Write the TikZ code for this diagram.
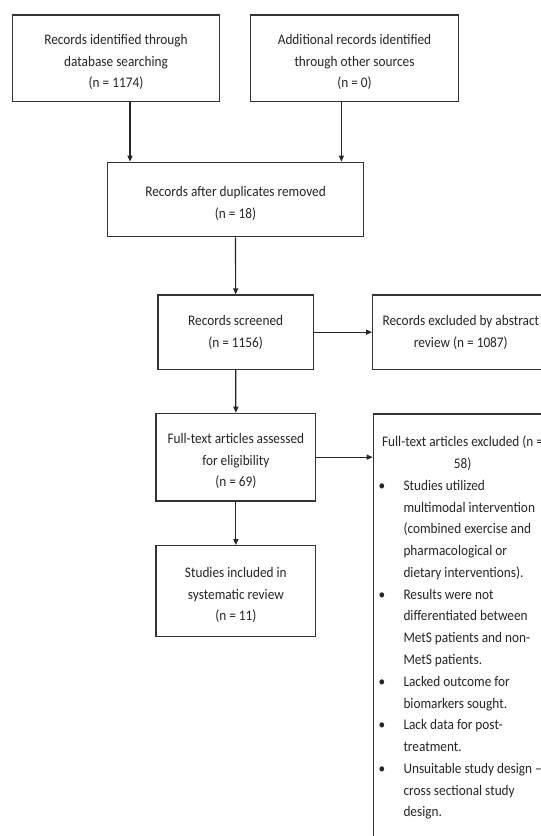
\documentclass[tikz,border=0pt]{standalone}
\usepackage{fontspec}
\setmainfont{Carlito}
\usepackage{graphicx}
\usetikzlibrary{arrows.meta}
\newcommand{\bt}[2][7pt]{\raisebox{0pt}[\dimexpr\height+#1\relax][\depth]{\scalebox{1}[1.1]{\begin{tabular}{@{}c@{}}#2\end{tabular}}}}
\newcommand{\bl}[1]{\makebox[24.9pt][l]{•}#1}
\newcommand{\ind}[1]{\hspace{24.9pt}#1}
\tikzset{
  box/.style={draw=black!80, line width=1.3pt, rectangle, inner sep=0pt,
    font=\fontsize{13.3}{19.8}\selectfont, text=black!85, fill=white},
  arr/.style={draw=black!85, line width=1.2pt, -{Triangle[length=6pt,width=5pt]}},
  txt/.style={inner sep=0pt, font=\fontsize{13.3}{19.8}\selectfont, text=black!85}
}
\begin{document}
\begin{tikzpicture}[x=1pt,y=-1pt]
\useasboundingbox (0,0) rectangle (541,836);
\fill[white] (0,0) rectangle (541,836);
\clip (0,0) rectangle (541,836);

\node[box, minimum width=206.6pt, minimum height=86.7pt] (b1) at (116,58.35)
  {\bt{Records identified through\\database searching\\(n = 1174)}};
\node[box, minimum width=207.6pt, minimum height=86.7pt] (b2) at (354.5,58.35)
  {\bt{Additional records identified\\through other sources\\(n = 0)}};
\node[box, minimum width=256.5pt, minimum height=74.4pt] (b3) at (235.55,199.5)
  {\bt[8pt]{Records after duplicates removed\\(n = 18)}};
\node[box, minimum width=155.3pt, minimum height=74.3pt] (scr) at (235.65,332.15)
  {\bt[0pt]{Records screened\\(n = 1156)}};
\node[box, minimum width=176.3pt, minimum height=74.3pt] (ex1) at (460.85,332.15)
  {\bt[0pt]{Records excluded by abstract\\review (n = 1087)}};
\node[box, minimum width=159.7pt, minimum height=87.7pt] (ft) at (235.85,457.15)
  {\bt{Full-text articles assessed\\for eligibility\\(n = 69)}};
\node[box, minimum width=159.7pt, minimum height=91pt] (st) at (235.85,591.2)
  {\bt{Studies included in\\systematic review\\(n = 11)}};
\node[box, anchor=north west, minimum width=176.3pt, minimum height=460pt] (ex2) at (372.7,413.3) {};
\node[txt, anchor=base west] (ex2t) at (378.4,446.7)
  {\scalebox{1}[1.1]{\begin{tabular}[t]{@{}l@{}}
  \makebox[168pt][c]{Full-text articles excluded (n =}\\
  \makebox[168pt][c]{58)}\\
  \bl{Studies utilized}\\
  \ind{multimodal intervention}\\
  \ind{(combined exercise and}\\
  \ind{pharmacological or}\\
  \ind{dietary interventions).}\\
  \bl{Results were not}\\
  \ind{differentiated between}\\
  \ind{MetS patients and non-}\\
  \ind{MetS patients.}\\
  \bl{Lacked outcome for}\\
  \ind{biomarkers sought.}\\
  \bl{Lack data for post-}\\
  \ind{treatment.}\\
  \bl{Unsuitable study design –}\\
  \ind{cross sectional study}\\
  \ind{design.}
  \end{tabular}}};

\draw[arr] ([xshift=14pt]b1.south) -- ([xshift=14pt]b1.south |- b3.north);
\draw[arr] ([xshift=-13.1pt]b2.south) -- ([xshift=-13.1pt]b2.south |- b3.north);
\draw[arr] (b3.south) -- (scr.north);
\draw[arr] (scr.east) -- (ex1.west);
\draw[arr] (scr.south) -- (ft.north);
\draw[arr] (ft.east) -- (ft.east -| ex2.west);
\draw[arr] (ft.south) -- (st.north);
\end{tikzpicture}
\end{document}
